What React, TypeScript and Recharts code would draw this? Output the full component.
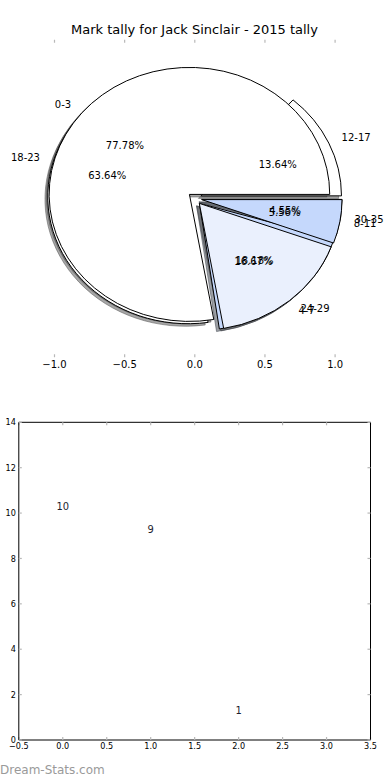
import React from 'react';
import { PieChart, Pie, ScatterChart, Scatter, XAxis, YAxis } from 'recharts';

// ---- data ----
const chartTitle = 'Mark tally for Jack Sinclair - 2015 tally';

const firstLabels = ['0-3', '4-7', '8-11'];
const firstCounts = [14, 3, 1];
const firstColors = ['#ffffff', '#eaf0fd', '#c5d8fc'];

const secondLabels = ['12-17', '18-23', '24-29', '30-35'];
const secondCounts = [3, 14, 4, 1];
const secondColors = ['#ffffff', '#ffffff', '#c5d8fc', '#c5d8fc'];

const pieTicks = [-1, -0.5, 0, 0.5, 1];

const tallyX = [0, 1, 2];
const tallyValues = [10, 9, 1];
const tallyXTicks = [-0.5, 0, 0.5, 1, 1.5, 2, 2.5, 3, 3.5];
const tallyYTicks = [0, 2, 4, 6, 8, 10, 12, 14];

// ---- layout ----
const W = 390;
const PIE_CX = 194.8;
const PIE_CY = 198.5;
const PIE_R = 140.3;
const ASPECT = 127 / 140.3; // axes are not equal, the pie comes out as an ellipse
const EXPLODE = 0.05;
const RAD = Math.PI / 180;
const FONT = "'DejaVu Sans', 'Open Sans', sans-serif";
const SMALL_FONT = "'DejaVu Sans Condensed', 'DejaVu Sans', sans-serif";

const firstData = firstLabels.map((name, i) => ({ name, value: firstCounts[i], fill: firstColors[i] }));
const secondData = secondLabels.map((name, i) => ({ name, value: secondCounts[i], fill: secondColors[i] }));
const tallyData = tallyX.map((x, i) => ({ x, y: tallyValues[i] }));

const fmtMinus = (v: number, digits = 1) => (v < 0 ? '\u2212' : '') + Math.abs(v).toFixed(digits);

const shadowOf = (hex: string) => {
  const n = parseInt(hex.slice(1), 16);
  const r = Math.round(((n >> 16) & 255) * 0.3);
  const g = Math.round(((n >> 8) & 255) * 0.3);
  const b = Math.round((n & 255) * 0.3);
  return `rgb(${r},${g},${b})`;
};

function wedgePath(cx: number, cy: number, r: number, start: number, end: number, dx = 0, dy = 0) {
  const rx = r;
  const ry = r * ASPECT;
  const mid = (start + end) / 2;
  const ox = cx + EXPLODE * rx * Math.cos(mid * RAD) + dx;
  const oy = cy - EXPLODE * ry * Math.sin(mid * RAD) + dy;
  const x1 = ox + rx * Math.cos(start * RAD);
  const y1 = oy - ry * Math.sin(start * RAD);
  const x2 = ox + rx * Math.cos(end * RAD);
  const y2 = oy - ry * Math.sin(end * RAD);
  const large = Math.abs(end - start) > 180 ? 1 : 0;
  return `M${ox},${oy} L${x1},${y1} A${rx},${ry} 0 ${large} 0 ${x2},${y2} Z`;
}

const Wedge = (props: any) => {
  const { cx, cy, outerRadius, startAngle, endAngle, payload } = props;
  const color = payload?.fill ?? props.fill;
  return (
    <path
      d={wedgePath(cx, cy, outerRadius, startAngle, endAngle)}
      fill={color}
      stroke="#000"
      strokeWidth={1}
      strokeLinejoin="miter"
    />
  );
};

const WedgeShadow = (props: any) => {
  const { cx, cy, outerRadius, startAngle, endAngle, payload } = props;
  const color = shadowOf(payload?.fill ?? props.fill);
  return (
    <path
      d={wedgePath(cx, cy, outerRadius, startAngle, endAngle, -0.02 * outerRadius, 0.02 * outerRadius * ASPECT)}
      fill={color}
      fillOpacity={0.5}
      stroke={color}
      strokeOpacity={0.5}
      strokeWidth={1}
    />
  );
};

const Nothing = () => <g />;

const WedgeText = (props: any) => {
  const { cx, cy, midAngle, outerRadius, percent, name } = props;
  const rx = outerRadius;
  const ry = outerRadius * ASPECT;
  const c = Math.cos(midAngle * RAD);
  const s = Math.sin(midAngle * RAD);
  const lx = (EXPLODE + 1.1) * c;
  const ly = (EXPLODE + 1.1) * s;
  const px = (EXPLODE + 0.6) * c;
  const py = (EXPLODE + 0.6) * s;
  return (
    <g>
      <text
        x={cx + lx * rx}
        y={cy - ly * ry}
        textAnchor={lx > 0 ? 'start' : 'end'}
        dominantBaseline="central"
        fontSize={10}
        fontFamily={FONT}
        fill="#000"
      >
        {name}
      </text>
      <text
        x={cx + px * rx}
        y={cy - py * ry}
        textAnchor="middle"
        dominantBaseline="central"
        fontSize={10}
        fontFamily={FONT}
        fill="#000"
      >
        {(percent * 100).toFixed(2)}%
      </text>
    </g>
  );
};

const TallyMark = (props: any) => {
  const { cx, cy, payload } = props;
  return (
    <text x={cx} y={cy - 3} textAnchor="middle" fontSize={11} fontFamily={SMALL_FONT} fill="#1e1e30">
      {payload.y}
    </text>
  );
};

const pieCommon = {
  dataKey: 'value',
  nameKey: 'name',
  cx: PIE_CX,
  cy: PIE_CY,
  outerRadius: PIE_R,
  startAngle: 0,
  endAngle: 360,
  isAnimationActive: false,
  labelLine: false,
  stroke: 'none',
};

const tickGray = '#b8b8b8';

export default function App() {
  const pieTop = PIE_CY - 1.25 * PIE_R * ASPECT;
  const pieBottom = PIE_CY + 1.25 * PIE_R * ASPECT;
  const pieLeft = PIE_CX - 1.25 * PIE_R;
  const pieRight = PIE_CX + 1.25 * PIE_R;

  return (
    <div style={{ position: 'absolute', left: 0, top: 0, width: W, height: 780, background: '#fff', overflow: 'hidden' }}>
      <div
        style={{
          position: 'absolute',
          left: 0,
          top: 23.3,
          width: W - 1,
          textAlign: 'center',
          fontFamily: FONT,
          fontSize: 13,
          lineHeight: 1,
          color: '#000',
        }}
      >
        {chartTitle}
      </div>

      {/* axes of the pie subplot (frame off, ticks only) */}
      <div style={{ position: 'absolute', left: 0, top: 0 }}>
        <ScatterChart
          width={W}
          height={380}
          margin={{ top: pieTop - 1, bottom: 380 - pieBottom - 20, left: pieLeft, right: W - pieRight }}
        >
          <XAxis
            xAxisId="bottom"
            type="number"
            dataKey="x"
            domain={[-1.25, 1.25]}
            ticks={pieTicks}
            allowDataOverflow
            height={20}
            axisLine={false}
            tickLine={{ stroke: tickGray, strokeWidth: 1.2 }}
            tickSize={-3}
            tickMargin={7}
            tick={{ fontSize: 10, fontFamily: FONT, fill: '#000' }}
            tickFormatter={(v: number) => fmtMinus(v)}
          />
          <XAxis
            xAxisId="top"
            orientation="top"
            type="number"
            dataKey="x"
            domain={[-1.25, 1.25]}
            ticks={pieTicks}
            allowDataOverflow
            height={1}
            axisLine={false}
            tickLine={{ stroke: tickGray, strokeWidth: 1.2 }}
            tickSize={-3}
            tickFormatter={() => ''}
          />
          <YAxis type="number" dataKey="y" domain={[-1.25, 1.25]} hide />
        </ScatterChart>
      </div>

      <div style={{ position: 'absolute', left: 0, top: 0 }}>
        <PieChart width={W} height={380} margin={{ top: 0, right: 0, bottom: 0, left: 0 }}>
          <Pie {...pieCommon} data={secondData} shape={WedgeShadow} />
          <Pie {...pieCommon} data={firstData} shape={WedgeShadow} />
          <Pie {...pieCommon} data={secondData} shape={Wedge} />
          <Pie {...pieCommon} data={firstData} shape={Wedge} />
          <Pie {...pieCommon} data={secondData} shape={Nothing} label={WedgeText} />
          <Pie {...pieCommon} data={firstData} shape={Nothing} label={WedgeText} />
        </PieChart>
      </div>

      {/* lower subplot */}
      <div style={{ position: 'absolute', left: 0, top: 380 }}>
        <ScatterChart width={W} height={400} margin={{ top: 41.3, bottom: 20, left: 17.8, right: 18.5 }}>
          <XAxis
            xAxisId="b"
            type="number"
            dataKey="x"
            domain={[-0.5, 3.5]}
            ticks={tallyXTicks}
            allowDataOverflow
            height={20}
            axisLine={{ stroke: '#000' }}
            tickLine={{ stroke: tickGray, strokeWidth: 1.2 }}
            tickSize={-3}
            tickMargin={6}
            tick={{ fontSize: 9, fontFamily: SMALL_FONT, fill: '#000' }}
            tickFormatter={(v: number) => fmtMinus(v)}
          />
          <XAxis
            xAxisId="t"
            orientation="top"
            type="number"
            dataKey="x"
            domain={[-0.5, 3.5]}
            ticks={tallyXTicks}
            allowDataOverflow
            height={1}
            axisLine={{ stroke: '#000' }}
            tickLine={{ stroke: tickGray, strokeWidth: 1.2 }}
            tickSize={-3}
            tickFormatter={() => ''}
          />
          <YAxis
            yAxisId="l"
            type="number"
            dataKey="y"
            domain={[0, 14]}
            ticks={tallyYTicks}
            allowDataOverflow
            width={1}
            axisLine={{ stroke: '#000' }}
            tickLine={{ stroke: tickGray, strokeWidth: 1.2 }}
            tickSize={-3}
            tickMargin={6}
            tick={{ fontSize: 9, fontFamily: SMALL_FONT, fill: '#000' }}
          />
          <YAxis
            yAxisId="r"
            orientation="right"
            type="number"
            dataKey="y"
            domain={[0, 14]}
            ticks={tallyYTicks}
            allowDataOverflow
            width={1}
            axisLine={{ stroke: '#000' }}
            tickLine={{ stroke: tickGray, strokeWidth: 1.2 }}
            tickSize={-3}
            tickFormatter={() => ''}
          />
          <Scatter
            data={tallyData}
            xAxisId="b"
            yAxisId="l"
            shape={TallyMark}
            isAnimationActive={false}
          />
        </ScatterChart>
      </div>

      <div
        style={{
          position: 'absolute',
          left: 0,
          top: 764,
          fontFamily: FONT,
          fontSize: 12,
          lineHeight: 1,
          color: '#9a9a9a',
        }}
      >
        Dream-Stats.com
      </div>
    </div>
  );
}
